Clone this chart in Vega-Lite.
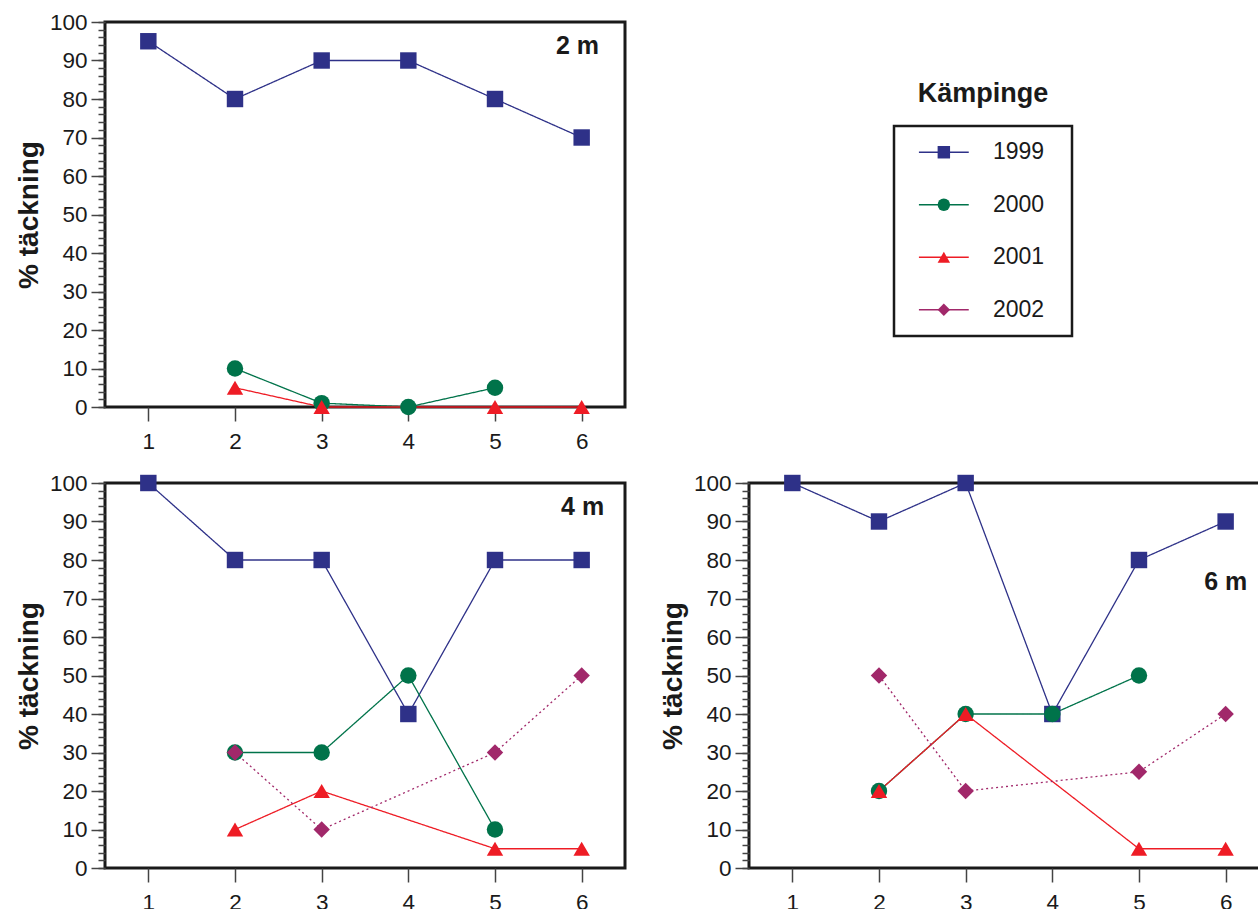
{
  "$schema": "https://vega.github.io/schema/vega-lite/v6.json",
  "background": "white",
  "padding": {"left": 13, "top": 9, "right": 0, "bottom": 0},
  "config": {
    "font": "Liberation Sans",
    "view": {"stroke": "#1a1a1a", "strokeWidth": 3},
    "axis": {"grid": false, "domain": false, "labelColor": "#1a1a1a", "titleColor": "#1a1a1a", "tickColor": "#444444", "tickWidth": 1.5}
  },
  "datasets": {
    "d": [
      {"depth": "2 m", "station": 1, "year": "1999", "value": 95},
      {"depth": "2 m", "station": 2, "year": "1999", "value": 80},
      {"depth": "2 m", "station": 3, "year": "1999", "value": 90},
      {"depth": "2 m", "station": 4, "year": "1999", "value": 90},
      {"depth": "2 m", "station": 5, "year": "1999", "value": 80},
      {"depth": "2 m", "station": 6, "year": "1999", "value": 70},
      {"depth": "2 m", "station": 2, "year": "2000", "value": 10},
      {"depth": "2 m", "station": 3, "year": "2000", "value": 1},
      {"depth": "2 m", "station": 4, "year": "2000", "value": 0},
      {"depth": "2 m", "station": 5, "year": "2000", "value": 5},
      {"depth": "2 m", "station": 2, "year": "2001", "value": 5},
      {"depth": "2 m", "station": 3, "year": "2001", "value": 0},
      {"depth": "2 m", "station": 5, "year": "2001", "value": 0},
      {"depth": "2 m", "station": 6, "year": "2001", "value": 0},
      {"depth": "4 m", "station": 1, "year": "1999", "value": 100},
      {"depth": "4 m", "station": 2, "year": "1999", "value": 80},
      {"depth": "4 m", "station": 3, "year": "1999", "value": 80},
      {"depth": "4 m", "station": 4, "year": "1999", "value": 40},
      {"depth": "4 m", "station": 5, "year": "1999", "value": 80},
      {"depth": "4 m", "station": 6, "year": "1999", "value": 80},
      {"depth": "4 m", "station": 2, "year": "2000", "value": 30},
      {"depth": "4 m", "station": 3, "year": "2000", "value": 30},
      {"depth": "4 m", "station": 4, "year": "2000", "value": 50},
      {"depth": "4 m", "station": 5, "year": "2000", "value": 10},
      {"depth": "4 m", "station": 2, "year": "2001", "value": 10},
      {"depth": "4 m", "station": 3, "year": "2001", "value": 20},
      {"depth": "4 m", "station": 5, "year": "2001", "value": 5},
      {"depth": "4 m", "station": 6, "year": "2001", "value": 5},
      {"depth": "4 m", "station": 2, "year": "2002", "value": 30},
      {"depth": "4 m", "station": 3, "year": "2002", "value": 10},
      {"depth": "4 m", "station": 5, "year": "2002", "value": 30},
      {"depth": "4 m", "station": 6, "year": "2002", "value": 50},
      {"depth": "6 m", "station": 1, "year": "1999", "value": 100},
      {"depth": "6 m", "station": 2, "year": "1999", "value": 90},
      {"depth": "6 m", "station": 3, "year": "1999", "value": 100},
      {"depth": "6 m", "station": 4, "year": "1999", "value": 40},
      {"depth": "6 m", "station": 5, "year": "1999", "value": 80},
      {"depth": "6 m", "station": 6, "year": "1999", "value": 90},
      {"depth": "6 m", "station": 2, "year": "2000", "value": 20},
      {"depth": "6 m", "station": 3, "year": "2000", "value": 40},
      {"depth": "6 m", "station": 4, "year": "2000", "value": 40},
      {"depth": "6 m", "station": 5, "year": "2000", "value": 50},
      {"depth": "6 m", "station": 2, "year": "2001", "value": 20},
      {"depth": "6 m", "station": 3, "year": "2001", "value": 40},
      {"depth": "6 m", "station": 5, "year": "2001", "value": 5},
      {"depth": "6 m", "station": 6, "year": "2001", "value": 5},
      {"depth": "6 m", "station": 2, "year": "2002", "value": 50},
      {"depth": "6 m", "station": 3, "year": "2002", "value": 20},
      {"depth": "6 m", "station": 5, "year": "2002", "value": 25},
      {"depth": "6 m", "station": 6, "year": "2002", "value": 40}
    ]
  },
  "spacing": 16,
  "resolve": {"scale": {"x": "independent", "y": "independent"}, "axis": {"x": "independent", "y": "independent"}},
  "vconcat": [
    {
      "spacing": 265,
      "resolve": {"scale": {"x": "independent", "y": "independent"}, "axis": {"x": "independent", "y": "independent"}},
      "hconcat": [
        {
          "width": 520, "height": 385,
          "data": {"name": "d"},
          "transform": [{"filter": "datum.depth === '2 m'"}],
          "layer": [
            {"mark": {"type": "line", "strokeWidth": 1.3},
              "encoding": {
                "x": {"field": "station", "type": "quantitative", "scale": {"domain": [0.5, 6.5], "nice": false, "zero": false},
                  "axis": {"orient": "bottom", "values": [1, 2, 3, 4, 5, 6], "format": "d", "tickSize": 14, "labelFontSize": 22.5, "labelPadding": 9, "title": null}},
                "y": {"field": "value", "type": "quantitative", "scale": {"domain": [0, 100], "nice": false}, "axis": {"orient": "left", "values": [0, 10, 20, 30, 40, 50, 60, 70, 80, 90, 100], "tickSize": 14, "labelFontSize": 22.5, "labelPadding": 4, "title": "% täckning", "titleFontSize": 28, "titleFontWeight": "bold", "titlePadding": 6}},
                "color": {"field": "year", "type": "nominal", "scale": {"domain": ["1999", "2000", "2001", "2002"], "range": ["#2e3188", "#00734a", "#ee1c25", "#a1286a"]}, "legend": null},
                "strokeDash": {"field": "year", "type": "nominal", "scale": {"domain": ["1999", "2000", "2001", "2002"], "range": [[1, 0], [1, 0], [1, 0], [2, 3]]}, "legend": null}
              }},
            {"mark": {"type": "point", "filled": true, "opacity": 1, "size": 270},
              "encoding": {
                "x": {"field": "station", "type": "quantitative", "scale": {"domain": [0.5, 6.5], "nice": false, "zero": false},
                  "axis": {"orient": "bottom", "values": [1, 2, 3, 4, 5, 6], "format": "d", "tickSize": 14, "labelFontSize": 22.5, "labelPadding": 9, "title": null}},
                "y": {"field": "value", "type": "quantitative", "scale": {"domain": [0, 100], "nice": false}, "axis": {"orient": "left", "values": [0, 2, 4, 6, 8, 10, 12, 14, 16, 18, 20, 22, 24, 26, 28, 30, 32, 34, 36, 38, 40, 42, 44, 46, 48, 50, 52, 54, 56, 58, 60, 62, 64, 66, 68, 70, 72, 74, 76, 78, 80, 82, 84, 86, 88, 90, 92, 94, 96, 98, 100], "tickSize": 7, "labels": false, "title": null}},
                "color": {"field": "year", "type": "nominal", "scale": {"domain": ["1999", "2000", "2001", "2002"], "range": ["#2e3188", "#00734a", "#ee1c25", "#a1286a"]}, "legend": null},
                "shape": {"field": "year", "type": "nominal", "scale": {"domain": ["1999", "2000", "2001", "2002"], "range": ["square", "circle", "triangle-up", "diamond"]}, "legend": null}
              }},
            {"data": {"values": [{"label": "2 m"}]},
              "mark": {"type": "text", "align": "right", "baseline": "middle", "fontSize": 25, "fontWeight": "bold", "color": "#1a1a1a"},
              "encoding": {
                "x": {"datum": 6.2, "type": "quantitative"},
                "y": {"datum": 93.7, "type": "quantitative", "axis": null},
                "text": {"field": "label"}
              }}
          ],
          "resolve": {"axis": {"y": "independent"}}
        },
        {
          "spacing": 12,
          "vconcat": [
            {
              "width": 178, "height": 90,
              "view": {"stroke": null},
              "data": {"values": [{"t": "Kämpinge"}]},
              "mark": {"type": "text", "fontSize": 27, "fontWeight": "bold", "baseline": "middle", "align": "center", "color": "#1a1a1a"},
              "encoding": {
                "y": {"datum": 0.2, "type": "quantitative", "scale": {"domain": [0, 1], "nice": false}, "axis": null},
                "text": {"field": "t"}
              }
            },
            {
              "width": 178, "height": 210,
              "view": {"stroke": "#1a1a1a", "strokeWidth": 2.5},
              "data": {"values": [{"year": "1999"}, {"year": "2000"}, {"year": "2001"}, {"year": "2002"}]},
              "encoding": {
                "y": {"field": "year", "type": "nominal", "scale": {"type": "point", "padding": 0.5, "domain": ["1999", "2000", "2001", "2002"]}, "axis": null}
              },
              "layer": [
                {"mark": {"type": "rule", "strokeWidth": 1.6},
                  "encoding": {
                    "x": {"datum": 0.14, "type": "quantitative", "scale": {"domain": [0, 1], "nice": false}, "axis": null},
                    "x2": {"datum": 0.42},
                    "color": {"field": "year", "type": "nominal", "scale": {"domain": ["1999", "2000", "2001", "2002"], "range": ["#2e3188", "#00734a", "#ee1c25", "#a1286a"]}, "legend": null}
                  }},
                {"mark": {"type": "point", "filled": true, "opacity": 1, "size": 155},
                  "encoding": {
                    "x": {"datum": 0.28, "type": "quantitative", "scale": {"domain": [0, 1], "nice": false}, "axis": null},
                    "color": {"field": "year", "type": "nominal", "scale": {"domain": ["1999", "2000", "2001", "2002"], "range": ["#2e3188", "#00734a", "#ee1c25", "#a1286a"]}, "legend": null},
                    "shape": {"field": "year", "type": "nominal", "scale": {"domain": ["1999", "2000", "2001", "2002"], "range": ["square", "circle", "triangle-up", "diamond"]}, "legend": null}
                  }},
                {"mark": {"type": "text", "align": "left", "baseline": "middle", "fontSize": 23, "color": "#1a1a1a"},
                  "encoding": {
                    "x": {"datum": 0.556, "type": "quantitative", "scale": {"domain": [0, 1], "nice": false}, "axis": null},
                    "text": {"field": "year"}
                  }}
              ]
            }
          ]
        }
      ]
    },
    {
      "spacing": 30,
      "resolve": {"scale": {"x": "independent", "y": "independent"}, "axis": {"x": "independent", "y": "independent"}},
      "hconcat": [
        {
          "width": 520, "height": 385,
          "data": {"name": "d"},
          "transform": [{"filter": "datum.depth === '4 m'"}],
          "layer": [
            {"mark": {"type": "line", "strokeWidth": 1.3},
              "encoding": {
                "x": {"field": "station", "type": "quantitative", "scale": {"domain": [0.5, 6.5], "nice": false, "zero": false},
                  "axis": {"orient": "bottom", "values": [1, 2, 3, 4, 5, 6], "format": "d", "tickSize": 14, "labelFontSize": 22.5, "labelPadding": 9, "title": null}},
                "y": {"field": "value", "type": "quantitative", "scale": {"domain": [0, 100], "nice": false}, "axis": {"orient": "left", "values": [0, 10, 20, 30, 40, 50, 60, 70, 80, 90, 100], "tickSize": 14, "labelFontSize": 22.5, "labelPadding": 4, "title": "% täckning", "titleFontSize": 28, "titleFontWeight": "bold", "titlePadding": 6}},
                "color": {"field": "year", "type": "nominal", "scale": {"domain": ["1999", "2000", "2001", "2002"], "range": ["#2e3188", "#00734a", "#ee1c25", "#a1286a"]}, "legend": null},
                "strokeDash": {"field": "year", "type": "nominal", "scale": {"domain": ["1999", "2000", "2001", "2002"], "range": [[1, 0], [1, 0], [1, 0], [2, 3]]}, "legend": null}
              }},
            {"mark": {"type": "point", "filled": true, "opacity": 1, "size": 270},
              "encoding": {
                "x": {"field": "station", "type": "quantitative", "scale": {"domain": [0.5, 6.5], "nice": false, "zero": false},
                  "axis": {"orient": "bottom", "values": [1, 2, 3, 4, 5, 6], "format": "d", "tickSize": 14, "labelFontSize": 22.5, "labelPadding": 9, "title": null}},
                "y": {"field": "value", "type": "quantitative", "scale": {"domain": [0, 100], "nice": false}, "axis": {"orient": "left", "values": [0, 2, 4, 6, 8, 10, 12, 14, 16, 18, 20, 22, 24, 26, 28, 30, 32, 34, 36, 38, 40, 42, 44, 46, 48, 50, 52, 54, 56, 58, 60, 62, 64, 66, 68, 70, 72, 74, 76, 78, 80, 82, 84, 86, 88, 90, 92, 94, 96, 98, 100], "tickSize": 7, "labels": false, "title": null}},
                "color": {"field": "year", "type": "nominal", "scale": {"domain": ["1999", "2000", "2001", "2002"], "range": ["#2e3188", "#00734a", "#ee1c25", "#a1286a"]}, "legend": null},
                "shape": {"field": "year", "type": "nominal", "scale": {"domain": ["1999", "2000", "2001", "2002"], "range": ["square", "circle", "triangle-up", "diamond"]}, "legend": null}
              }},
            {"data": {"values": [{"label": "4 m"}]},
              "mark": {"type": "text", "align": "right", "baseline": "middle", "fontSize": 25, "fontWeight": "bold", "color": "#1a1a1a"},
              "encoding": {
                "x": {"datum": 6.26, "type": "quantitative"},
                "y": {"datum": 93.8, "type": "quantitative", "axis": null},
                "text": {"field": "label"}
              }}
          ],
          "resolve": {"axis": {"y": "independent"}}
        },
        {
          "width": 512, "height": 385,
          "data": {"name": "d"},
          "transform": [{"filter": "datum.depth === '6 m'"}],
          "layer": [
            {"mark": {"type": "line", "strokeWidth": 1.3},
              "encoding": {
                "x": {"field": "station", "type": "quantitative", "scale": {"domain": [0.5, 6.408], "nice": false, "zero": false},
                  "axis": {"orient": "bottom", "values": [1, 2, 3, 4, 5, 6], "format": "d", "tickSize": 14, "labelFontSize": 22.5, "labelPadding": 9, "title": null}},
                "y": {"field": "value", "type": "quantitative", "scale": {"domain": [0, 100], "nice": false}, "axis": {"orient": "left", "values": [0, 10, 20, 30, 40, 50, 60, 70, 80, 90, 100], "tickSize": 14, "labelFontSize": 22.5, "labelPadding": 4, "title": "% täckning", "titleFontSize": 28, "titleFontWeight": "bold", "titlePadding": 6}},
                "color": {"field": "year", "type": "nominal", "scale": {"domain": ["1999", "2000", "2001", "2002"], "range": ["#2e3188", "#00734a", "#ee1c25", "#a1286a"]}, "legend": null},
                "strokeDash": {"field": "year", "type": "nominal", "scale": {"domain": ["1999", "2000", "2001", "2002"], "range": [[1, 0], [1, 0], [1, 0], [2, 3]]}, "legend": null}
              }},
            {"mark": {"type": "point", "filled": true, "opacity": 1, "size": 270},
              "encoding": {
                "x": {"field": "station", "type": "quantitative", "scale": {"domain": [0.5, 6.408], "nice": false, "zero": false},
                  "axis": {"orient": "bottom", "values": [1, 2, 3, 4, 5, 6], "format": "d", "tickSize": 14, "labelFontSize": 22.5, "labelPadding": 9, "title": null}},
                "y": {"field": "value", "type": "quantitative", "scale": {"domain": [0, 100], "nice": false}, "axis": {"orient": "left", "values": [0, 2, 4, 6, 8, 10, 12, 14, 16, 18, 20, 22, 24, 26, 28, 30, 32, 34, 36, 38, 40, 42, 44, 46, 48, 50, 52, 54, 56, 58, 60, 62, 64, 66, 68, 70, 72, 74, 76, 78, 80, 82, 84, 86, 88, 90, 92, 94, 96, 98, 100], "tickSize": 7, "labels": false, "title": null}},
                "color": {"field": "year", "type": "nominal", "scale": {"domain": ["1999", "2000", "2001", "2002"], "range": ["#2e3188", "#00734a", "#ee1c25", "#a1286a"]}, "legend": null},
                "shape": {"field": "year", "type": "nominal", "scale": {"domain": ["1999", "2000", "2001", "2002"], "range": ["square", "circle", "triangle-up", "diamond"]}, "legend": null}
              }},
            {"data": {"values": [{"label": "6 m"}]},
              "mark": {"type": "text", "align": "right", "baseline": "middle", "fontSize": 25, "fontWeight": "bold", "color": "#1a1a1a"},
              "encoding": {
                "x": {"datum": 6.25, "type": "quantitative"},
                "y": {"datum": 74.3, "type": "quantitative", "axis": null},
                "text": {"field": "label"}
              }}
          ],
          "resolve": {"axis": {"y": "independent"}}
        }
      ]
    }
  ]
}
